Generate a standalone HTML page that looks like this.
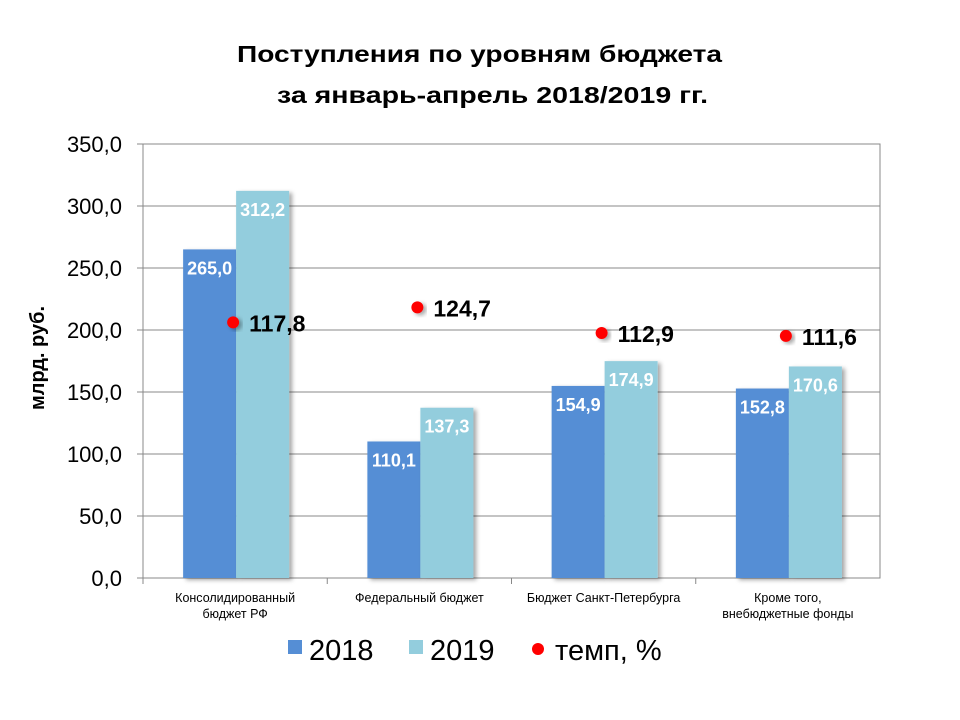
<!DOCTYPE html>
<html><head><meta charset="utf-8"><style>
body{margin:0;background:#fff;}
svg{display:block;font-family:"Liberation Sans",Arial,sans-serif;}
</style></head><body>
<svg id="chart" width="960" height="720" viewBox="0 0 960 720">
<defs><filter id="sh" x="-20%" y="-20%" width="150%" height="150%"><feDropShadow dx="3" dy="2" stdDeviation="2" flood-color="#000" flood-opacity="0.35"/></filter></defs>
<text x="237" y="62" font-size="23" font-weight="bold" textLength="485" lengthAdjust="spacingAndGlyphs">Поступления  по уровням бюджета</text>
<text x="277" y="103" font-size="23" font-weight="bold" textLength="431" lengthAdjust="spacingAndGlyphs">за январь-апрель 2018/2019 гг.</text>
<rect x="143" y="144" width="737" height="434" fill="none" stroke="#888" stroke-width="1"/>
<g id="grid"></g><g id="bars"></g><g id="dots"></g><g id="xlab"></g>
<text transform="translate(44,358) rotate(-90)" text-anchor="middle" font-size="20" font-weight="bold">млрд. руб.</text>
<g>
<rect x="288" y="640" width="14" height="14" fill="#558ed5"/>
<text x="309" y="660" font-size="29">2018</text>
<rect x="409" y="640" width="14" height="14" fill="#93cddd"/>
<text x="430" y="660" font-size="29">2019</text>
<circle cx="538" cy="649" r="6" fill="#f00"/>
<text x="555" y="660" font-size="29">темп, %</text>
</g>
</svg>
<script>
const categories=[["Консолидированный","бюджет РФ"],["Федеральный бюджет"],["Бюджет Санкт-Петербурга"],["Кроме того,","внебюджетные фонды"]];
const values2018=[265.0,110.1,154.9,152.8];
const values2019=[312.2,137.3,174.9,170.6];
const rates=[117.8,124.7,112.9,111.6];
const yTicks=[0,50,100,150,200,250,300,350];
const NS="http://www.w3.org/2000/svg";
const X0=143,X1=880,Y0=578,Y1=144,YMAX=350,RATE_SCALE=1.75;
const y=v=>Y0-(v/YMAX)*(Y0-Y1);
const gw=(X1-X0)/categories.length;
const gx=i=>X0+gw*i;
function mk(p,tag,a){const e=document.createElementNS(NS,tag);for(const k in a)e.setAttribute(k,a[k]);p.appendChild(e);return e;}
const fmt=v=>v.toFixed(1).replace('.',',');
const grid=document.getElementById('grid');
yTicks.forEach(t=>{
 const l=mk(grid,'line',{x1:137,x2:X1,y1:y(t),y2:y(t),stroke:'#888','stroke-width':1});
 
 
 const tx=mk(grid,'text',{x:122,y:y(t)+8,'text-anchor':'end','font-size':22});
 tx.textContent=fmt(t);
 
 
});
const bars=document.getElementById('bars'),dots=document.getElementById('dots'),xl=document.getElementById('xlab');
const bw=53;
categories.forEach((c,i)=>{
 const cx=gx(i)+gw/2+1;
 [[values2018[i],'#558ed5',cx-bw,'bar-2018'],[values2019[i],'#93cddd',cx,'bar-2019']].forEach(([v,col,bx,nm])=>{
  const r=mk(bars,'rect',{x:bx,y:y(v),width:bw,height:Y0-y(v),fill:col,filter:'url(#sh)'});
  
  
  const t=mk(bars,'text',{x:bx+bw/2,y:y(v)+25,'text-anchor':'middle','font-size':18,'font-weight':'bold',fill:'#fff'});
  t.textContent=fmt(v);
  
  
 });
 const dy=y(rates[i]*RATE_SCALE);
 const d=mk(dots,'circle',{cx:cx-3,cy:dy,r:6,fill:'#f00',filter:'url(#sh)'});
 
 
 const dt=mk(dots,'text',{x:cx+13,y:dy+9,'font-size':23,'font-weight':'bold'});
 dt.textContent=fmt(rates[i]);
 
 
 const tk=mk(xl,'line',{x1:gx(i),x2:gx(i),y1:Y0,y2:Y0+6,stroke:'#888'});
 
 
 c.forEach((ln,j)=>{
  const t=mk(xl,'text',{x:gx(i)+gw/2,y:602+j*16,'text-anchor':'middle','font-size':12.5});
  t.textContent=ln;
  
  
 });
});
</script>
</body></html>
